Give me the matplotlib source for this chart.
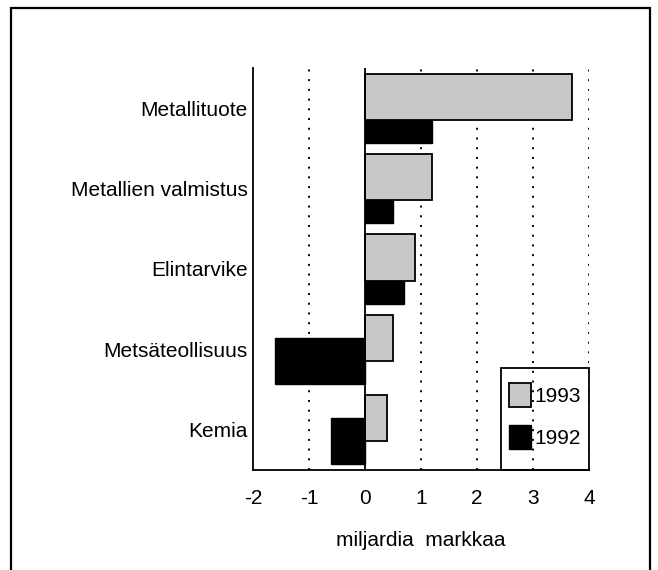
import numpy as np
import matplotlib
matplotlib.use('Agg')
import matplotlib.pyplot as plt
from matplotlib.patches import Rectangle

plt.rcParams['font.family'] = ['Liberation Sans', 'DejaVu Sans']

# Data
categories = ['Metallituote', 'Metallien valmistus', 'Elintarvike', 'Metsäteollisuus', 'Kemia']
values_1993 = [3.7, 1.2, 0.9, 0.5, 0.4]
values_1992 = [1.2, 0.5, 0.7, -1.6, -0.6]
series_labels = ['1993', '1992']
x_ticks = [-2, -1, 0, 1, 2, 3, 4]
x_label = 'miljardia  markkaa'

fs = 15

fig = plt.figure(figsize=(6.58, 5.70), dpi=100)
ax = fig.add_axes([253 / 658, 100 / 570, 336 / 658, 402 / 570])

pos = np.arange(len(categories))
h = 0.575
off = 0.1437

# 1992 drawn first so the 1993 bars sit on top where they overlap
b92 = ax.barh(pos + off, values_1992, height=h, color='black', edgecolor='black',
              linewidth=1.0, zorder=2, label=series_labels[1])
b93 = ax.barh(pos - off, values_1993, height=h, color='#c8c8c8', edgecolor='black',
              linewidth=1.3, zorder=3, label=series_labels[0])

ax.set_xlim(-2, 4)
ax.set_ylim(4.5, -0.5)

# dotted gridlines and solid zero line
for x in [-1, 1, 2, 3, 4]:
    ax.axvline(x, color='black', linestyle=(0, (1, 4)), linewidth=1.4, zorder=1)
ax.axvline(0, color='black', linewidth=1.3, zorder=4)

ax.set_xticks(x_ticks)
ax.set_xticklabels([str(t) for t in x_ticks])
ax.set_yticks(pos)
ax.set_yticklabels(categories)
ax.tick_params(axis='x', length=0, pad=14, labelsize=fs)
ax.tick_params(axis='y', length=0, pad=4, labelsize=fs)
ax.set_xlabel(x_label, fontsize=fs, labelpad=16)

for s in ['top', 'right']:
    ax.spines[s].set_visible(False)
for s in ['left', 'bottom']:
    ax.spines[s].set_linewidth(1.3)

# legend without its own frame; a separate box is drawn around it
leg = ax.legend(handles=[b93, b92], labels=series_labels, loc='upper left',
                bbox_to_anchor=(256 / 336, 87 / 402), borderaxespad=0, fontsize=fs,
                handlelength=1.05, handleheight=1.4, handletextpad=0.15,
                labelspacing=0.85, borderpad=0, frameon=False)
ax.add_patch(Rectangle((248 / 336, 0), 88 / 336, 102 / 402, transform=ax.transAxes,
                       fill=False, edgecolor='black', linewidth=1.3, zorder=5,
                       clip_on=False))

# outer frame around the whole graphic
fig.patches.append(Rectangle((11 / 658, -0.02), 639 / 658, 1.02 - 8 / 570,
                             transform=fig.transFigure, fill=False,
                             edgecolor='black', linewidth=1.6))

fig.savefig('out.png', dpi=100)
